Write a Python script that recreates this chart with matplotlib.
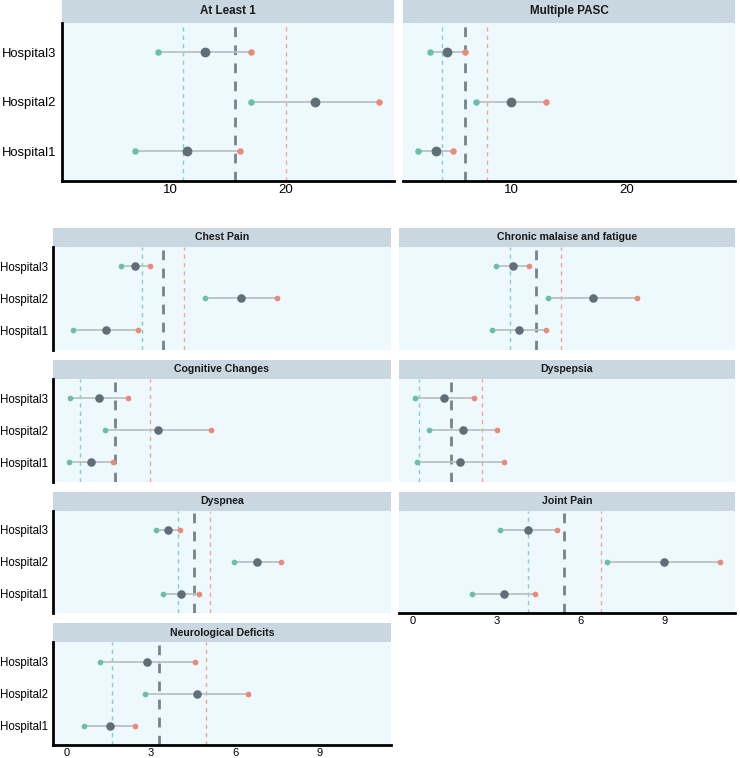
import numpy as np
import matplotlib
matplotlib.use("Agg")
import matplotlib.pyplot as plt

plt.rcParams['font.family'] = ['Liberation Sans', 'DejaVu Sans']

W, H = 740, 758

hospitals = ["Hospital1", "Hospital2", "Hospital3"]

# top block: values per panel, listed Hospital1, Hospital2, Hospital3
top_panels = ["At Least 1", "Multiple PASC"]
top_low = [[7, 17, 9], [2, 7, 3]]
top_mid = [[11.5, 22.5, 13], [3.5, 10, 4.5]]
top_high = [[16, 28, 17], [5, 13, 6]]
top_ref = [[11.1, 15.6, 20.0], [4.1, 6.0, 7.9]]  # low / mid / high reference lines
top_ticks = [10, 20]

# bottom block
bottom_panels = ["Chest Pain", "Chronic malaise and fatigue", "Cognitive Changes",
                 "Dyspepsia", "Dyspnea", "Joint Pain", "Neurological Deficits"]
bottom_low = [[0.24, 4.92, 1.92], [2.86, 4.86, 2.99], [0.07, 1.38, 0.13],
              [0.17, 0.60, 0.10], [3.43, 5.94, 3.17], [2.14, 6.97, 3.12],
              [0.63, 2.80, 1.19]]
bottom_mid = [[1.40, 6.20, 2.43], [3.83, 6.45, 3.59], [0.85, 3.26, 1.15],
              [1.72, 1.82, 1.15], [4.08, 6.77, 3.62], [3.27, 8.98, 4.13],
              [1.53, 4.64, 2.86]]
bottom_high = [[2.53, 7.48, 2.96], [4.78, 8.03, 4.18], [1.64, 5.14, 2.18],
               [3.27, 3.03, 2.20], [4.72, 7.63, 4.04], [4.38, 10.99, 5.17],
               [2.42, 6.47, 4.56]]
bottom_ref = [[2.67, 3.43, 4.19], [3.50, 4.42, 5.31], [0.47, 1.72, 2.97],
              [0.25, 1.39, 2.49], [3.97, 4.54, 5.11], [4.12, 5.44, 6.75],
              [1.61, 3.29, 4.97]]
bottom_ticks = [0, 3, 6, 9]

TEAL = "#69bfaa"
RED = "#e98a7c"
GREY = "#5f6e78"
SEG = "#bcc2c5"
PANEL_BG = "#eef9fd"
STRIP_BG = "#c9d7e1"


def px_axes(fig, x0, y0, x1, y1):
    return fig.add_axes([x0 / W, 1 - y1 / H, (x1 - x0) / W, (y1 - y0) / H])


def expand(lows, highs):
    lo = np.min(lows)
    hi = np.max(highs)
    pad = (hi - lo) * 0.05
    return lo - pad, hi + pad


def draw_panel(fig, box, strip_h, title, low, mid, high, ref, xlim, ticks,
               show_y, show_x, big):
    x0, y0, x1, y1 = box
    strip = px_axes(fig, x0, y0, x1, y0 + strip_h)
    strip.set_facecolor(STRIP_BG)
    strip.set_xticks([])
    strip.set_yticks([])
    for s in strip.spines.values():
        s.set_visible(False)
    strip.text(0.5, 0.5, title, ha='center', va='center', fontweight='bold',
               fontsize=8.4 if big else 7.6, color='#1a1a1a',
               transform=strip.transAxes)

    ax = px_axes(fig, x0, y0 + strip_h, x1, y1)
    ax.set_facecolor(PANEL_BG)
    ypos = np.arange(1, len(hospitals) + 1)

    ax.axvline(ref[0], color="#86cfc4", lw=1.0, ls=(0, (3, 3)), zorder=1)
    ax.axvline(ref[2], color="#f2a396", lw=1.0, ls=(0, (3, 3)), zorder=1)
    ax.axvline(ref[1], color="#74838c", lw=2.0, ls=(0, (3.5, 3)), zorder=1)

    ax.hlines(ypos, low, high, color=SEG, lw=1.3, zorder=2)
    ax.scatter(low, ypos, s=22 if big else 17, color=TEAL, zorder=3, linewidths=0)
    ax.scatter(high, ypos, s=22 if big else 17, color=RED, zorder=3, linewidths=0)
    ax.scatter(mid, ypos, s=50 if big else 38, color=GREY, zorder=4, linewidths=0)

    ax.set_xlim(*xlim)
    ax.set_ylim(0.4, 3.6)
    for s in ax.spines.values():
        s.set_visible(False)
    ax.tick_params(length=0)
    fs = 9.5 if big else 8
    if show_y:
        ax.spines['left'].set_visible(True)
        ax.spines['left'].set_linewidth(2.0)
        ax.spines['left'].set_color('black')
        ax.set_yticks(ypos)
        ax.set_yticklabels(hospitals, fontsize=9.4 if big else 8.3, color='black')
        ax.tick_params(axis='y', pad=4)
    else:
        ax.set_yticks([])
    if show_x:
        ax.spines['bottom'].set_visible(True)
        ax.spines['bottom'].set_linewidth(2.0)
        ax.spines['bottom'].set_color('black')
        ax.set_xticks(ticks)
        ax.set_xticklabels([str(t) for t in ticks], fontsize=fs, color='black')
        ax.tick_params(axis='x', pad=2)
    else:
        ax.set_xticks([])
    return ax


fig = plt.figure(figsize=(W / 100, H / 100), dpi=100)

# top block
top_xlim = expand(top_low, top_high)
top_boxes = [(62, 0, 394, 181), (403, 0, 735, 181)]
for i, name in enumerate(top_panels):
    draw_panel(fig, top_boxes[i], 22.7, name, top_low[i], top_mid[i], top_high[i],
               top_ref[i], top_xlim, top_ticks, show_y=(i == 0), show_x=True, big=True)

# bottom block, 2 columns
bot_xlim = expand(bottom_low, bottom_high)
col_x = [(53.3, 390.7), (399, 735)]
row_top = [228, 360, 491.7, 623.3]
n = len(bottom_panels)
for i, name in enumerate(bottom_panels):
    r, c = divmod(i, 2)
    x0, x1 = col_x[c]
    y0 = row_top[r]
    box = (x0, y0, x1, y0 + 19 + 102.5)
    last_in_col = (i + 2) >= n
    draw_panel(fig, box, 19, name, bottom_low[i], bottom_mid[i], bottom_high[i],
               bottom_ref[i], bot_xlim, bottom_ticks, show_y=(c == 0),
               show_x=last_in_col, big=False)

fig.savefig("out.png", dpi=100, facecolor='white')
